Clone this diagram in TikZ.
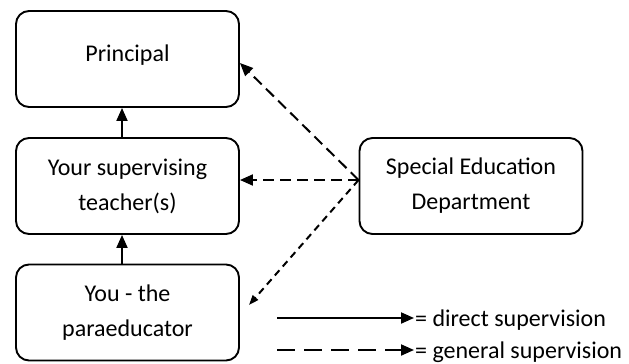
\documentclass[tikz,border=0pt]{standalone}
\usepackage{fontspec}
\setmainfont{Carlito}
\usetikzlibrary{arrows.meta}
\begin{document}
\begin{tikzpicture}[x=1pt,y=-1pt,
  box/.style={draw,line width=1.9pt,rounded corners=13pt,minimum width=223pt,minimum height=96pt,inner sep=0pt,align=center,font=\fontsize{24}{35}\selectfont},
  conn/.style={line width=2pt,-{Triangle[length=13pt,width=11pt]}},
  longdash/.style={conn,dash pattern=on 11pt off 6pt},
  shortdash/.style={line width=2pt,-{Triangle[length=10pt,width=7pt]},dash pattern=on 7pt off 5pt},
  legdash/.style={conn,dash pattern=on 18pt off 9pt},
  legtext/.style={anchor=base west,inner sep=0pt,font=\fontsize{24}{30}\selectfont}]
\useasboundingbox (0,0) rectangle (629,364);
\node[box,text height=12pt,text depth=8pt] (P) at (127.5,59) {Principal};
\node[box] (T) at (127.5,186) {Your supervising\\teacher(s)};
\node[box] (Y) at (127.5,312.5) {You - the\\paraeducator};
\node[box] (S) at (471,186) {Special Education\\Department};
\coordinate (sp) at ([yshift=6pt]S.west);
\coordinate (yend) at ([xshift=9pt,yshift=7.5pt]Y.east);
\draw[conn] ([xshift=-5.5pt]T.north) -- ([xshift=-5.5pt]P.south);
\draw[conn] ([xshift=-5.5pt]Y.north) -- ([xshift=-5.5pt]T.south);
\draw[longdash] (sp) -- ([yshift=-4pt]P.east);
\draw[longdash] (sp) -- ([yshift=6pt]T.east);
\draw[shortdash] (sp) -- (yend);
\coordinate (l1a) at (277,318);
\coordinate (l1b) at (414,318);
\coordinate (l2a) at (277,350);
\coordinate (l2b) at (414,350);
\draw[conn] (l1a) -- (l1b);
\draw[legdash] (l2a) -- (l2b);
\node[legtext] (t1) at (415,326.5) {= direct supervision};
\node[legtext] (t2) at (415,358) {= general supervision};
\end{tikzpicture}
\end{document}
